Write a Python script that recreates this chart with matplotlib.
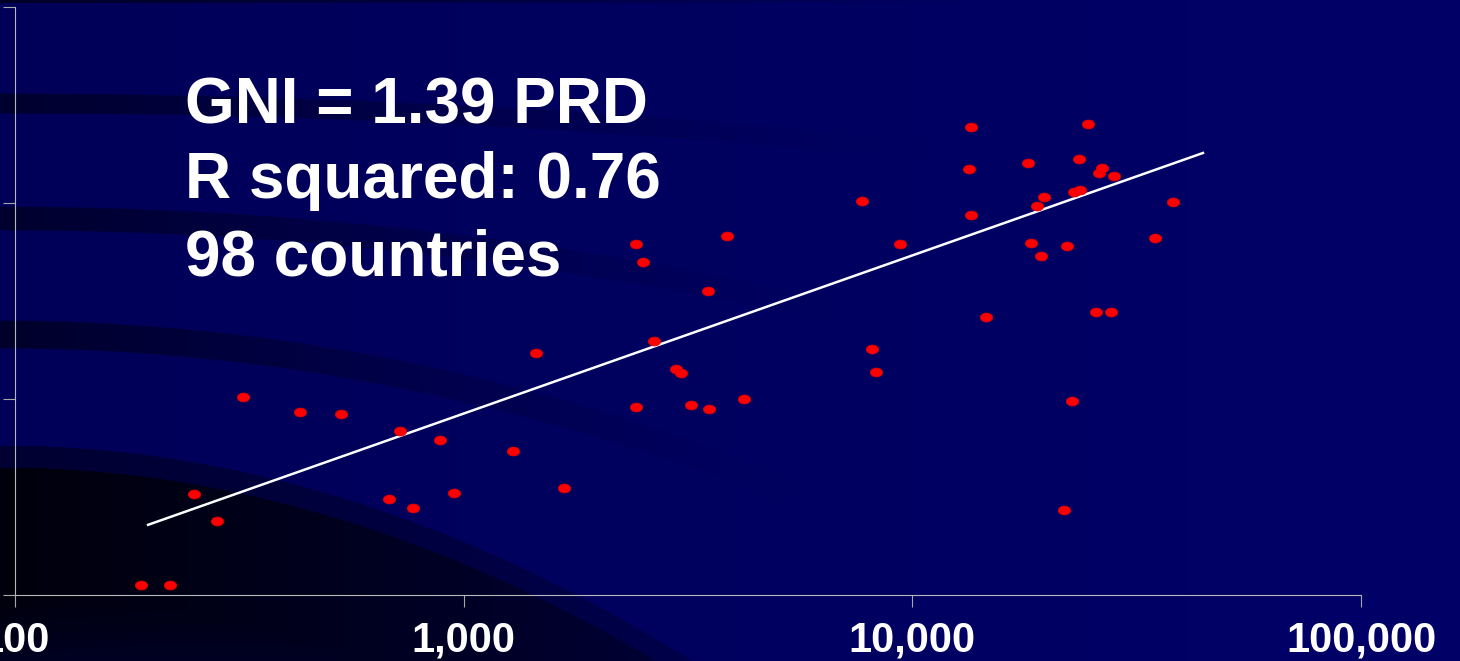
import numpy as np
import matplotlib
matplotlib.use('Agg')
import matplotlib.pyplot as plt
from matplotlib.path import Path

# GNI per capita (x) against PRD (y), both
gni = [191, 221, 251, 282, 322, 432, 533, 681, 721, 771, 886, 951, 1288,
       1449, 1673, 2421, 2509, 2421, 2656, 2972, 3050, 3210, 3504, 3522,
       3863, 4214, 7721, 8128, 8297, 9385, 13508, 13370, 13508, 14590,
       18100, 18380, 18950, 19340, 19650, 22110, 21770, 22680, 22910,
       23510, 23630, 24630, 25660, 26060, 26460, 27710, 28140, 34730, 38090]
prd = [112, 112, 327, 238, 1022, 858, 838, 309, 686, 278, 617, 331, 542,
       1714, 351, 6164, 4990, 909, 1974, 1421, 1356, 931, 3550, 888,
       6772, 999, 10213, 1797, 1372, 6164, 24350, 14875, 8667, 2616,
       15960, 6237, 9632, 5355, 10706, 6021, 271, 976, 11355,
       16730, 11625, 25220, 2774, 14190, 15050, 2774, 13700, 6614, 10095]

# regression line end points
fit_x = [198, 44440]
fit_y = [228, 17950]

xtick_vals = [100, 1000, 10000, 100000]
xtick_labels = ['100', '1,000', '10,000', '100,000']
ytick_vals = [100, 1000, 10000, 100000]

text_lines = ['GNI = 1.39 PRD', 'R squared: 0.76', '98 countries']

W, H = 1460, 661

# --- slide background: navy with dark curved swooshes ---
yy, xx = np.mgrid[0:H, 0:W].astype(float)
blue = 88 + 16 * xx / W
# (y at left edge, curvature, half width, fade end x, depth)
bands = [(103, 0.55e-4, 9, 950, 42),
         (218, 1.33e-4, 11, 880, 42),
         (334, 2.5e-4, 13, 820, 45)]
for y0, k, hw, fade, depth in bands:
    yc = y0 + k * xx ** 2
    inside = np.clip(1 - (np.abs(yy - yc) - hw) / 1.5, 0, 1)
    blue -= depth * inside * np.clip(1 - xx / fade, 0, 1) ** 1.3
# big dark region at lower left
ya = 445 + 4.5e-4 * xx ** 2
d = yy - ya
dark = np.where(d > 0, 1.0, 0.0) * 38
dark += np.where(d > 22, 1.0, 0.0) * 38
dark *= np.clip(1 - (d - 150) / 250, 0.3, 1)
dark *= np.clip(1 - xx / 1100, 0, 1) ** 0.6
blue -= dark
# thin dark strip at the top
blue[:3, :] -= 50 * np.clip(1 - xx[:3, :] / 1000, 0, 1)
blue = np.clip(blue, 5, 255)
bg = np.zeros((H, W, 3))
bg[..., 2] = blue / 255

fig = plt.figure(figsize=(14.6, 6.61), dpi=100)
bg_ax = fig.add_axes([0, 0, 1, 1])
bg_ax.imshow(bg, aspect='auto', interpolation='bilinear')
bg_ax.axis('off')

ax = fig.add_axes([15 / W, 66 / H, 1346 / W, 588.3 / H])
ax.patch.set_alpha(0)
ax.set_xscale('log')
ax.set_yscale('log')
ax.set_xlim(100, 100000)
ax.set_ylim(100, 100000)

theta = np.linspace(0, 2 * np.pi, 60)
ellipse = Path(np.c_[np.cos(theta), 0.73 * np.sin(theta)], closed=True)
ax.scatter(gni, prd, s=78, marker=ellipse, color='#ff0000',
           edgecolor='#e00000', linewidth=0.5, zorder=3, clip_on=False)
ax.plot(fit_x, fit_y, color='white', lw=1.8, zorder=2)

ax.set_xticks(xtick_vals)
ax.set_xticklabels(xtick_labels)
ax.set_yticks(ytick_vals)
ax.minorticks_off()
ax.tick_params(axis='both', direction='out', length=8.6, width=0.8,
               color='#a8a8a8')
ax.tick_params(axis='x', labelsize=30, labelcolor='white', pad=10)
ax.tick_params(axis='y', labelleft=False)
for lab in ax.get_xticklabels():
    lab.set_fontfamily('Liberation Sans')
    lab.set_fontweight('bold')
for side in ['top', 'right']:
    ax.spines[side].set_visible(False)
for side in ['left', 'bottom']:
    ax.spines[side].set_color('#b8b8b8')
    ax.spines[side].set_linewidth(0.8)

baselines = [123, 198, 275]
for line, b in zip(text_lines, baselines):
    fig.text(185 / W, 1 - b / H, line, color='white', fontsize=46,
             fontweight='bold', family='Liberation Sans', va='baseline')

fig.savefig('out.png', dpi=100)
